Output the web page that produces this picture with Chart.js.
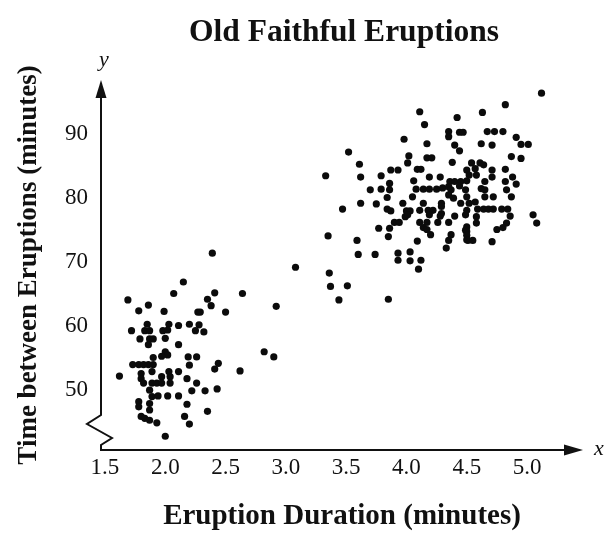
<!DOCTYPE html>
<html>
<head>
<meta charset="utf-8">
<title>Old Faithful Eruptions</title>
<script src="https://cdn.jsdelivr.net/npm/chart.js@4.4.1/dist/chart.umd.min.js"></script>
<style>
  body { margin: 0; background: #fff; }
  #wrap { width: 608px; height: 535px; }
</style>
</head>
<body>
<div id="wrap"><canvas id="chart"></canvas></div>
<script>
// eruption length (minutes) and the wait before it (minutes), one pair per eruption
const durations = [
  // short eruptions
  2.15, 2.07, 1.69, 1.86, 1.78, 1.99, 2.27,
  1.85, 2.03, 2.11, 2.20, 2.28,
  1.72, 1.83, 1.87, 1.98, 2.02, 2.25, 2.32,
  1.79, 1.87, 1.90, 2.00, 1.86, 2.11,
  1.90, 2.00, 2.02, 1.97, 2.19, 2.26,
  1.73, 1.78, 1.82, 1.86, 1.90, 2.20,
  1.62, 1.80, 1.80, 1.89, 1.97, 2.03, 2.04, 2.11, 2.18,
  1.82, 1.89, 1.93, 1.97, 2.04, 2.26,
  1.87, 1.89, 1.94, 2.02, 2.11, 2.22,
  1.78, 1.78, 1.87, 1.87, 2.18,
  1.80, 1.83, 1.87, 1.93, 2.16, 2.20, 2.00,
  2.39, 3.08, 2.41, 2.64, 2.35, 2.38, 2.92, 2.29, 2.50,
  2.82, 2.90, 2.44, 2.41, 2.62, 2.33, 2.43, 2.35,
  // long eruptions
  3.52, 3.61, 3.33, 3.62, 3.79, 3.87, 3.93, 3.86, 3.70, 3.79, 3.84,
  3.62, 3.75, 3.84, 3.87, 3.47, 3.90, 3.94, 3.77, 3.86, 3.85, 3.35,
  3.59, 3.60, 3.74, 3.93, 3.93, 3.36, 3.37, 3.51, 3.44, 3.85,
  4.11, 4.42, 4.15, 4.35, 4.35, 4.44, 4.47, 3.98, 4.17, 4.40, 4.44,
  4.02, 4.01, 4.17, 4.21, 4.38, 4.09, 4.12, 4.50, 4.19, 4.28, 4.06,
  4.36, 4.40, 4.45, 4.50, 4.08, 4.14, 4.19, 4.25, 4.30, 4.35, 4.37,
  4.44, 4.49, 3.86, 4.05, 4.35, 4.39, 4.50,
  3.97, 4.14, 4.29, 4.29, 4.45, 4.00, 4.03, 4.11, 4.18, 4.22, 4.29,
  4.50, 3.99, 4.01, 4.19, 4.28, 4.40, 4.11, 4.17, 4.26, 4.35, 4.14,
  4.17, 4.50, 4.50, 4.20, 4.37, 4.35, 4.33, 4.50, 4.09, 4.03, 4.03,
  4.12, 4.10,
  5.12, 4.82, 4.63, 4.67, 4.73, 4.80, 4.91, 4.95, 5.01, 4.62, 4.71,
  4.87, 4.95, 4.54, 4.61, 4.64, 4.57, 4.71, 4.82, 4.52, 4.58, 4.71,
  4.88, 4.65, 4.82, 4.91, 4.62, 4.65, 4.83, 4.65, 4.72, 4.87,
  4.52, 4.57, 4.59, 4.64, 4.68, 4.72, 4.79, 4.84, 4.86, 5.05, 5.08,
  4.49, 4.58, 4.58, 4.83, 4.75, 4.80, 4.49, 4.50, 4.51, 4.55, 4.71
];
const waits = [
  66.8, 65.0, 64.0, 63.2, 62.3, 62.2, 62.1,
  60.2, 60.2, 60.0, 60.2, 60.1,
  59.2, 59.2, 59.2, 59.2, 59.3, 59.2, 59.0,
  57.9, 57.9, 57.9, 58.0, 57.0, 57.0,
  55.0, 55.9, 55.4, 55.2, 55.1, 55.1,
  53.9, 53.9, 53.9, 53.9, 53.9, 53.8,
  52.1, 52.5, 51.7, 52.8, 52.0, 52.8, 52.0, 52.8, 51.7,
  51.0, 51.0, 51.0, 51.0, 51.0, 51.0,
  49.9, 48.9, 49.0, 49.0, 49.0, 49.8,
  48.1, 47.3, 47.8, 46.8, 47.7,
  45.8, 45.5, 45.2, 44.8, 45.8, 44.6, 42.7,
  71.3, 69.1, 65.1, 65.0, 64.1, 63.1, 63.0, 62.1, 62.1,
  55.9, 55.1, 54.1, 53.2, 52.9, 49.8, 50.1, 46.6,
  87.1, 85.2, 83.4, 83.2, 83.4, 84.3, 84.3, 82.2, 81.2, 81.3, 80.0,
  79.1, 79.0, 78.2, 77.9, 78.2, 76.1, 76.1, 75.2, 75.2, 73.9, 74.0,
  73.3, 71.1, 71.1, 71.3, 70.2, 68.2, 66.1, 66.2, 64.0, 64.1,
  93.4, 92.5, 91.4, 90.3, 89.5, 90.2, 90.2, 89.1, 88.4, 88.2, 87.3,
  86.5, 85.4, 86.2, 86.2, 85.5, 84.4, 84.4, 84.3, 83.2, 83.2, 82.6,
  82.5, 82.5, 82.5, 82.6, 81.3, 81.3, 81.3, 81.3, 81.5, 81.7, 81.2,
  81.8, 81.2, 81.2, 80.1, 80.4, 79.9, 80.1,
  79.1, 79.1, 79.1, 78.6, 79.1, 77.9, 77.9, 78.0, 78.0, 78.0, 77.5,
  78.0, 77.0, 77.3, 77.3, 77.1, 77.1, 76.1, 76.1, 76.1, 76.1, 75.3,
  75.0, 75.4, 74.7, 74.2, 74.2, 73.3, 72.1, 73.4, 73.2, 71.5, 70.1,
  70.2, 68.8,
  96.3, 94.5, 93.3, 90.3, 90.3, 90.3, 89.4, 88.3, 88.3, 88.4, 88.2,
  86.4, 86.1, 85.4, 85.4, 85.1, 84.5, 84.3, 84.4, 83.5, 83.5, 83.2,
  83.2, 82.5, 82.5, 82.1, 81.4, 81.2, 81.2, 80.1, 80.1, 80.1,
  79.1, 79.3, 78.2, 78.2, 78.2, 78.2, 78.2, 78.2, 77.1, 77.3, 76.0,
  77.3, 77.0, 76.0, 76.0, 75.0, 75.3, 74.9, 74.1, 73.3, 73.3, 73.1
];

const xTicks = [1.5, 2.0, 2.5, 3.0, 3.5, 4.0, 4.5, 5.0];
const yTicks = [50, 60, 70, 80, 90];

const points = durations.map((d, i) => ({ x: d, y: waits[i] }));

const serif = "'Liberation Serif', 'Times New Roman', serif";
const ink = '#111';

// hand-drawn style axes: arrows, the broken y axis and the x / y letters
const axisArt = {
  id: 'axisArt',
  afterDraw(chart) {
    const { ctx, chartArea: a } = chart;
    const x0 = a.left, y0 = a.bottom;
    ctx.save();
    ctx.strokeStyle = ink;
    ctx.fillStyle = ink;
    ctx.lineWidth = 2;
    ctx.lineJoin = 'miter';

    ctx.beginPath();
    ctx.moveTo(x0, a.top + 14);
    ctx.lineTo(x0, y0 - 35);
    ctx.lineTo(x0 - 14, y0 - 26);
    ctx.lineTo(x0 + 11, y0 - 12);
    ctx.lineTo(x0, y0 - 5);
    ctx.lineTo(x0, y0);
    ctx.lineTo(a.right - 14, y0);
    ctx.stroke();

    // arrow heads
    ctx.beginPath();
    ctx.moveTo(x0, a.top);
    ctx.lineTo(x0 - 5.5, a.top + 18);
    ctx.lineTo(x0 + 5.5, a.top + 18);
    ctx.closePath();
    ctx.fill();
    ctx.beginPath();
    ctx.moveTo(a.right, y0);
    ctx.lineTo(a.right - 19, y0 - 5.5);
    ctx.lineTo(a.right - 19, y0 + 5.5);
    ctx.closePath();
    ctx.fill();

    ctx.font = 'italic 22px ' + serif;
    ctx.textAlign = 'center';
    ctx.textBaseline = 'middle';
    ctx.fillText('y', x0 + 3, a.top - 20);
    ctx.fillText('x', a.right + 16, y0 - 1);

    ctx.font = 'bold 31.5px ' + serif;
    ctx.fillText('Old Faithful Eruptions', (a.left + a.right) / 2 + 2, 33);
    ctx.restore();
  }
};

new Chart(document.getElementById('chart'), {
  type: 'scatter',
  data: {
    datasets: [{
      data: points,
      pointRadius: 3.6,
      pointHoverRadius: 3.6,
      backgroundColor: '#0b0b0b',
      borderWidth: 0
    }]
  },
  options: {
    responsive: true,
    maintainAspectRatio: false,
    animation: false,
    devicePixelRatio: 1,
    layout: { padding: { top: 80, right: 25, left: 0, bottom: 0 } },
    plugins: {
      legend: { display: false },
      tooltip: { enabled: false },
      title: { display: false }
    },
    scales: {
      x: {
        type: 'linear',
        min: 1.467,
        max: 5.464,
        afterBuildTicks: s => { s.ticks = xTicks.map(v => ({ value: v })); },
        afterFit: s => { s.height = 85; },
        grid: { display: false, drawTicks: false },
        border: { display: false },
        ticks: {
          color: ink,
          padding: 4,
          maxRotation: 0,
          autoSkip: false,
          font: { family: serif, size: 23 },
          callback: v => Number(v).toFixed(1)
        },
        title: {
          display: true,
          text: 'Eruption Duration (minutes)',
          color: ink,
          font: { family: serif, size: 29, weight: 'bold' },
          padding: { top: 0, bottom: 1 }
        }
      },
      y: {
        type: 'linear',
        min: 40.55,
        max: 98.36,
        afterBuildTicks: s => { s.ticks = yTicks.map(v => ({ value: v })); },
        afterFit: s => { s.width = 101; },
        grid: { display: false, drawTicks: false },
        border: { display: false },
        ticks: {
          color: ink,
          padding: 13,
          autoSkip: false,
          font: { family: serif, size: 23 },
          callback: v => String(v)
        },
        title: {
          display: true,
          text: 'Time between Eruptions (minutes)',
          color: ink,
          font: { family: serif, size: 27, weight: 'bold' },
          padding: { top: 13, bottom: 0 }
        }
      }
    }
  },
  plugins: [axisArt]
});
</script>
</body>
</html>
